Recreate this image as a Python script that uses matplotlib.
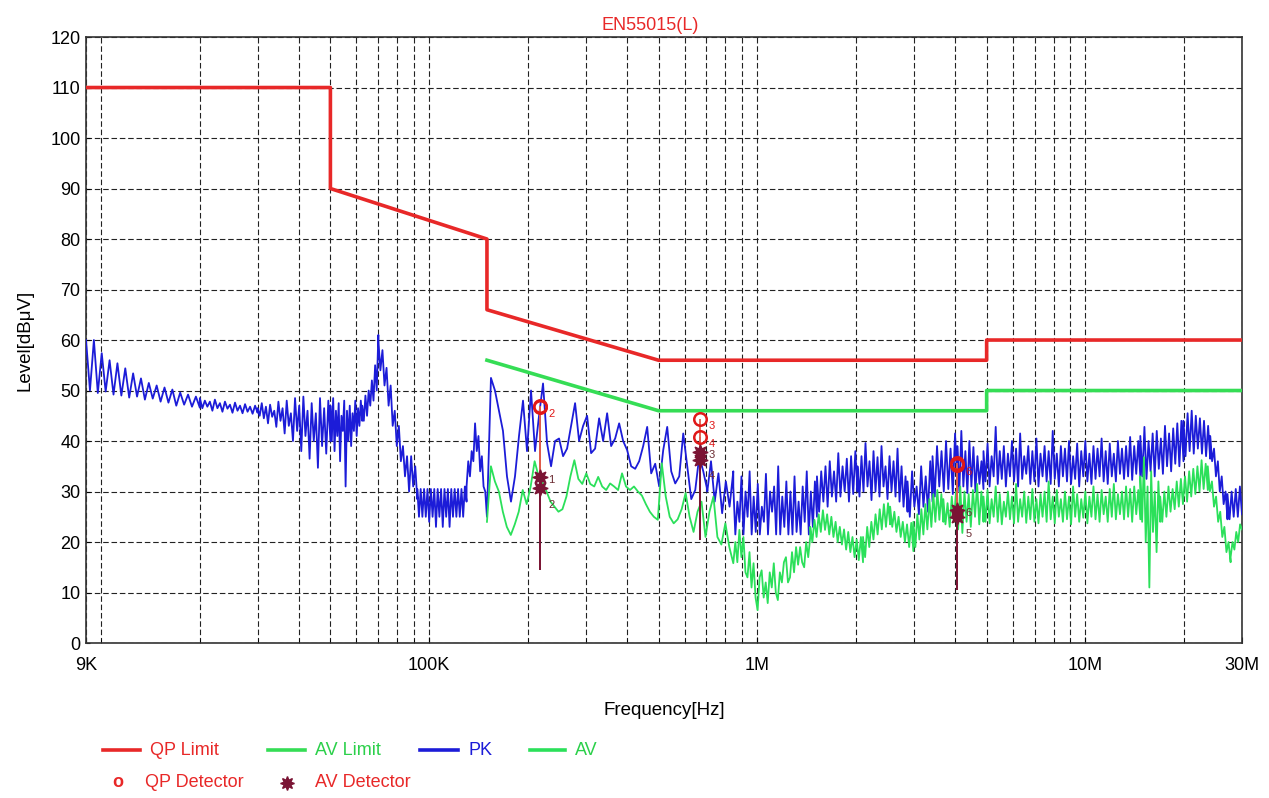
import numpy as np
import matplotlib.pyplot as plt
from matplotlib.lines import Line2D
from matplotlib.ticker import FixedLocator, LogLocator, NullFormatter

plt.rcParams['font.family'] = ['Liberation Sans', 'DejaVu Sans']

# EN55015 limit lines (Hz, dBuV)
qp_limit_freq = [9e3, 50e3, 50e3, 150e3, 150e3, 500e3, 5e6, 5e6, 30e6]
qp_limit_level = [110, 110, 90, 80, 66, 56, 56, 60, 60]
av_limit_freq = [150e3, 500e3, 5e6, 5e6, 30e6]
av_limit_level = [56, 46, 46, 50, 50]

# PK sweep (kHz edges, dBuV levels)
pk_edges_khz = [9, 20, 30, 50, 62.5, 70, 92, 130, 150, 704, 845, 1520, 2020,
                2870, 3420, 4070, 4890, 14700, 19900, 24000, 27100, 30000]
pk_9k_20k = [60, 50, 60, 49.5, 57.4, 49.8, 56, 49.2, 55.4, 49, 54.4, 48.6, 53.4, 48.8, 52.4,
             48.2, 51.5, 48.4, 51, 47.8, 50.6, 47.6, 50.2, 47, 49.6, 47.2, 49.2, 46.8, 48.8, 46.6]
pk_20k_30k = [48.5, 46.5, 48, 46.8, 47.8, 46, 48.2, 46.5, 47.5, 45.8, 47.8, 46.4,
              47.2, 45.6, 47.6, 46, 47, 45.5, 47.3, 45.8, 46.8, 45.4, 47, 45.6]
pk_30k_50k = [46.5, 45, 47.5, 44.5, 46.8, 43.5, 47.2, 44.8, 46, 42.8, 47.8, 44, 46.5, 41.5,
              48, 43, 45.5, 40, 48.5, 42, 47, 38, 48.8, 41, 46, 36.5, 47.5, 40, 45.5, 34.7,
              48.5, 39, 46.5, 37.5, 48, 40]
pk_50k_62k = [47, 40, 48.5, 38, 46, 41, 47.5, 36, 45, 42, 48, 31, 46, 40, 47, 39,
              45.5, 42, 48, 41, 46.5, 43, 48, 44]
pk_62k_70k = [47, 44, 49, 45, 50, 47, 52, 48, 55, 50, 61]
pk_70k_92k = [60, 54, 58, 51, 54.5, 47, 51, 43, 46, 39, 43, 36, 39, 33, 37, 30, 37, 31, 35, 28.5]
pk_92k_130k = [30.5, 25, 30.5, 25, 30.5, 25, 30.5, 24, 30.5, 25, 30.5, 23, 30.5, 25, 30.5,
               23, 30.5, 25, 30.5, 23, 30.5, 25, 30.5, 25, 30.5, 25, 30.5, 25, 31, 28]
pk_130k_150k = [31, 36, 33, 38, 36, 43.5, 38, 41, 34, 37, 31, 30, 25]
pk_150k_704k = [25, 52.5, 50, 46, 42, 33, 28, 33, 41, 48, 38, 50, 38, 45, 51.4, 39.6, 35, 40,
                40.5, 37, 38.5, 43, 47.5, 40, 43, 45, 37.6, 38.5, 44.5, 40, 45.5, 39, 40.5,
                43.5, 40, 38.2, 35, 34.5, 36, 39, 42.8, 33.6, 35.5, 31, 38.2, 42.8, 34, 31.6,
                33, 41.5, 35, 28.5, 30.3, 37, 34, 30.3]
pk_704k_845k = [30, 36, 28, 33.6, 25.7, 32, 27, 34]
pk_845k_1520k = [31, 21.5, 28, 24, 33, 21.5, 30, 25, 34, 21.5, 29, 22, 31.5, 21.5, 27, 24,
                 33.5, 21.5, 30, 26, 31, 21.5, 35, 21.5, 29, 23, 32, 21.5, 30, 21.5, 33, 22,
                 28, 21.5, 31, 24, 34, 21.5, 30, 23, 32, 25]
pk_1520k_2020k = [33, 26, 34, 28, 35, 27, 36, 29, 34, 28, 37.6, 29, 35, 30, 36.5, 28, 37,
                  29.5, 38, 30]
pk_2020k_2870k = [35, 29, 37, 30, 39.6, 31, 36, 28.3, 38, 30, 36.8, 29, 39, 31, 35, 28.5,
                  37, 30, 36, 29, 38.5, 28, 35, 27, 33, 26]
pk_2870k_3420k = [32, 25, 34, 27, 31, 25.5, 35, 27, 33, 26, 36, 28]
pk_3420k_4070k = [37, 29, 39, 31, 38, 30, 40, 30.5, 38.5, 29.5, 41.5, 31]
pk_4070k_4890k = [39, 30, 42, 31, 38, 29.7, 40, 31, 38.8, 30, 37, 31.5, 36, 30.5]
pk_4890k_14700k = [38, 32, 39.5, 31, 37, 33, 42.8, 31.5, 38, 32.5, 39, 31, 37.5, 33, 40, 32,
                   38.5, 31, 41.5, 32.5, 37, 33.5, 39, 31.5, 38, 32, 40.5, 31, 37.5, 33, 39,
                   32, 38, 31.5, 42, 32.5, 37.5, 31, 39, 33, 38.5, 32, 40, 31.5, 37, 32.5,
                   39.5, 31, 38, 33, 40, 32, 37.5, 31.5, 39, 32.5, 38.5, 33, 40.5, 32, 38,
                   31.5, 39.5, 33, 37.5, 32, 40, 33.5, 38.5, 32.5, 39, 33, 40.8, 32.3, 39,
                   33.5, 40, 33]
pk_14700k_19900k = [41, 33, 42.8, 32.5, 40, 34, 41.5, 33, 42, 34.5, 40.5, 33.5, 43, 35,
                    41.5, 34, 42.5, 35.5, 43.5, 35, 44, 36]
pk_19900k_24000k = [44, 37, 45.5, 38, 46, 37.5, 45, 38.5, 44.5, 37.5, 44, 37, 43, 36.5]
pk_24000k_27100k = [41, 36, 38.5, 33, 36, 30, 33, 27.5, 30, 24.5]
pk_27100k_30000k = [29.5, 24.5, 30, 25, 30.5, 25, 31, 25.5]
pk_pieces = [pk_9k_20k, pk_20k_30k, pk_30k_50k, pk_50k_62k, pk_62k_70k, pk_70k_92k,
             pk_92k_130k, pk_130k_150k, pk_150k_704k, pk_704k_845k, pk_845k_1520k,
             pk_1520k_2020k, pk_2020k_2870k, pk_2870k_3420k, pk_3420k_4070k,
             pk_4070k_4890k, pk_4890k_14700k, pk_14700k_19900k, pk_19900k_24000k,
             pk_24000k_27100k, pk_27100k_30000k]

# AV sweep
av_edges_khz = [150, 845, 1450, 2100, 2540, 2990, 3690, 4890, 14700, 16900, 23600, 27700, 30000]
av_150k_845k = [24, 35, 32, 30, 26, 23, 21.4, 23.5, 26, 30.3, 27.5, 31, 36, 33, 31.8, 30, 28,
                27, 26, 26.5, 29, 33, 36.2, 32.5, 31.5, 33.6, 31.5, 31, 32.9, 31, 30.3, 31.6,
                31, 30.3, 33.6, 31, 30.3, 31, 30, 29.2, 27.5, 26, 25, 24.4, 35.6, 29, 25,
                23.7, 24.5, 26.5, 29.7, 25, 22, 26, 28, 21, 26, 29, 21, 19.5, 23.7, 19, 15.8]
av_845k_1450k = [15.8, 20, 16, 22.4, 17, 21, 14, 13, 18, 11, 15.8, 9, 6.5, 13, 14.4, 9, 12,
                 7.9, 14, 11, 15.8, 10, 8.5, 14, 12, 16, 17, 12, 13, 18, 14, 19, 15.5, 19,
                 16, 15, 20, 17, 21]
av_1450k_2100k = [23, 20, 24.4, 21, 25.5, 22, 26.3, 22.4, 25.5, 21.5, 25, 21, 24, 20, 23,
                  19.5, 22.5, 18.5, 22, 18, 21, 17, 20.5, 16.4, 21, 16]
av_2100k_2540k = [21, 17, 23, 19, 24, 20.5, 25.5, 21.5, 26.5, 22.5, 27.5, 23, 27.7, 23.5]
av_2540k_2990k = [27, 23, 26, 22, 25, 21, 24, 20, 23.5, 19, 23.8, 18.2]
av_2990k_3690k = [24, 19, 25.5, 20.5, 26.5, 21.5, 27.5, 22.5, 28.5, 23, 29.5, 24, 30.3,
                  24.4, 29.5, 24]
av_3690k_4890k = [28.5, 23.5, 27.7, 23, 29, 24, 30, 22.5, 31, 21.8, 30, 24, 29.5, 23, 30.3,
                  25, 31.5, 23.5, 30, 24]
av_4890k_14700k = [29, 24, 30.3, 23.7, 28.5, 25, 31, 24, 29.5, 23.5, 28, 25, 30, 24.5, 29,
                   23.7, 31.5, 24, 28.5, 25, 30, 23.8, 29, 24.5, 30.5, 24, 28.5, 23.7, 29.5,
                   25, 30, 24, 32, 24.5, 29, 23.7, 30.3, 25, 28.5, 24, 30, 24.5, 29, 23.5, 31,
                   25, 29.5, 24, 28.5, 24.8, 30, 23.7, 29, 25, 31, 24.5, 29.5, 24, 30.3, 25.5,
                   29, 24, 30.5, 25, 31.5, 24.5, 29.5, 25.5, 30, 24.5, 31, 25, 30.5, 24, 31,
                   25.5, 30.3, 24.5]
av_14700k_16900k = [33, 24, 36.8, 20, 31, 11, 34, 22, 30, 18, 32, 24]
av_16900k_23600k = [29, 24, 30, 25, 31, 26, 30.5, 26.5, 32, 27, 32.5, 27.5, 33, 28, 34, 29,
                    34.5, 29.5, 35, 30, 36.2, 30.5, 35.5, 30.3]
av_23600k_27700k = [35, 30, 32, 27, 29, 24, 26, 21, 23, 18, 20, 16]
av_27700k_30000k = [17, 20, 18.5, 22, 20, 23.5, 22.5]
av_pieces = [av_150k_845k, av_845k_1450k, av_1450k_2100k, av_2100k_2540k, av_2540k_2990k,
             av_2990k_3690k, av_3690k_4890k, av_4890k_14700k, av_14700k_16900k,
             av_16900k_23600k, av_23600k_27700k, av_27700k_30000k]

# final detector readings
det_freq_khz = [218, 218, 670, 670, 4070, 4070]
qp_det_level = [47.0, 46.8, 44.3, 40.8, 35.6, 35.3]
av_det_level = [32.8, 30.6, 37.8, 36.3, 24.9, 26.3]
stem_bottom = [14.5, 14.5, 20.4, 20.4, 10.5, 10.5]
qp_tags = ['', '2', '3', '4', '', '6']
av_tags = ['1', '2', '3', '4', '5', '6']


def build_trace(edges_khz, pieces):
    f, y = [], []
    for i, seg in enumerate(pieces):
        f.append(np.geomspace(edges_khz[i], edges_khz[i + 1], len(seg)) * 1e3)
        y.append(np.array(seg, dtype=float))
    return np.concatenate(f), np.concatenate(y)


pk_f, pk_y = build_trace(pk_edges_khz, pk_pieces)
av_f, av_y = build_trace(av_edges_khz, av_pieces)
det_f = np.array(det_freq_khz) * 1e3

red = '#e82828'
green = '#2be05a'
blue = '#1c1cd8'
maroon = '#7a1434'

fig = plt.figure(figsize=(12.69, 7.98), dpi=100)
ax = fig.add_axes([0.0678, 0.1942, 0.9109, 0.7594])

ax.plot(pk_f, pk_y, color=blue, lw=1.3, zorder=3)
ax.plot(av_f, av_y, color=green, lw=1.3, zorder=4)
ax.plot(qp_limit_freq, qp_limit_level, color=red, lw=2.6, zorder=5)
ax.plot(av_limit_freq, av_limit_level, color='#35dd55', lw=2.6, zorder=5)

ax.vlines(det_f, av_det_level, qp_det_level, color='#e05a4a', lw=1.3, zorder=6)
ax.vlines(det_f, stem_bottom, av_det_level, color=maroon, lw=1.3, zorder=6)
ax.plot(det_f, qp_det_level, 'o', mfc='none', mec='#e01818', ms=9, mew=1.8, zorder=7)
ax.plot(det_f, av_det_level, ls='none', marker=(8, 1, 0), color=maroon, ms=11, zorder=7)
for i in range(len(det_f)):
    if qp_tags[i]:
        ax.annotate(qp_tags[i], (det_f[i], qp_det_level[i]), xytext=(6, -5),
                    textcoords='offset points', color='#e01818', fontsize=8, zorder=8,
                    va='center')
    # upper star of each pair gets its number beside it, lower one below
    pair = av_det_level[i - 1] if i % 2 else av_det_level[i + 1]
    dy = -2 if av_det_level[i] > pair else -12
    ax.annotate(av_tags[i], (det_f[i], av_det_level[i]), xytext=(6, dy),
                textcoords='offset points', color='#6a2a30', fontsize=8, zorder=8,
                va='center')

ax.set_xscale('log')
ax.set_xlim(9e3, 30e6)
ax.set_ylim(0, 120)
ax.set_yticks(range(0, 121, 10))
ax.xaxis.set_major_locator(FixedLocator([9e3, 1e5, 1e6, 1e7, 3e7]))
ax.set_xticklabels(['9K', '100K', '1M', '10M', '30M'])
ax.xaxis.set_minor_locator(LogLocator(base=10, subs=range(1, 10), numticks=20))
ax.xaxis.set_minor_formatter(NullFormatter())
ax.grid(which='both', color='#222222', linestyle=(0, (5, 2.5)), linewidth=0.8, zorder=0)
ax.set_axisbelow(True)
ax.tick_params(which='both', direction='in', labelsize=13)
ax.tick_params(axis='x', which='major', pad=10, length=4)
ax.tick_params(axis='x', which='minor', length=3)
ax.tick_params(axis='y', pad=4, length=3)
for s in ax.spines.values():
    s.set_linewidth(1.2)
    s.set_color('#333333')

ax.set_title('EN55015(L)', color=red, fontsize=13, x=0.488, pad=5)
ax.set_xlabel('Frequency[Hz]', fontsize=13.5, labelpad=20)
ax.set_ylabel('Level[dBμV]', fontsize=13.5, labelpad=12)

# legend below the chart
row1, row2 = 0.060, 0.019
for x0, x1, c, label, tc in [(0.081, 0.110, red, 'QP Limit', red),
                             (0.211, 0.240, '#35dd55', 'AV Limit', '#2bd04a'),
                             (0.331, 0.361, blue, 'PK', blue),
                             (0.418, 0.445, green, 'AV', '#2bd04a')]:
    fig.add_artist(Line2D([x0, x1], [row1, row1], transform=fig.transFigure,
                          color=c, lw=2.6))
    fig.text(x1 + 0.008, row1, label, color=tc, fontsize=13, va='center')
fig.text(0.093, row2, 'o', color=red, fontsize=13, fontweight='bold', va='center', ha='center')
fig.text(0.114, row2, 'QP Detector', color=red, fontsize=13, va='center')
fig.add_artist(Line2D([0.226], [row2], transform=fig.transFigure, marker=(8, 1, 0),
                      color=maroon, ms=10, ls='none'))
fig.text(0.248, row2, 'AV Detector', color=red, fontsize=13, va='center')

fig.savefig('out.png', dpi=100)
